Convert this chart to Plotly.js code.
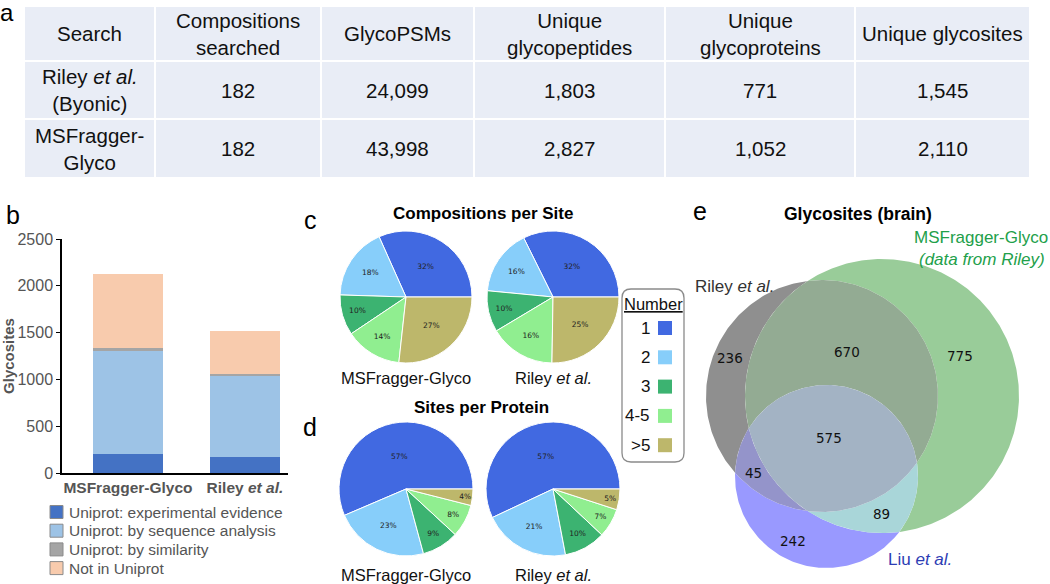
<!DOCTYPE html>
<html>
<head>
<meta charset="utf-8">
<script src="https://cdn.plot.ly/plotly-3.0.1.min.js"></script>
<style>html,body{margin:0;padding:0;background:#fff;}#chart{width:1050px;height:584px;}</style>
</head>
<body>
<div id="chart"></div>
<script>
// ---------------- DATA ----------------
// (a) table
const tableHeader = ['Search', 'Compositions<br>searched', 'GlycoPSMs', 'Unique<br>glycopeptides', 'Unique<br>glycoproteins', 'Unique glycosites'];
const tableRowRiley = ['Riley <i>et al.</i><br>(Byonic)', '182', '24,099', '1,803', '771', '1,545'];
const tableRowMSF = ['MSFragger-<br>Glyco', '182', '43,998', '2,827', '1,052', '2,110'];

// (b) stacked bars
const barCategories = ['MSFragger-Glyco', 'Riley <i>et al.</i>'];
const seriesNames = ['Uniprot: experimental evidence', 'Uniprot: by sequence analysis', 'Uniprot: by similarity', 'Not in Uniprot'];
const expEvidence = [200, 170];
const seqAnalysis = [1105, 862];
const bySimilarity = [35, 25];
const notInUniprot = [790, 463];

// (c),(d) pies
const numberCategories = ['1', '2', '3', '4-5', '>5'];
const compositionsMSF = [32, 18, 10, 14, 27];
const compositionsRiley = [32, 16, 10, 16, 25];
const sitesMSF = [57, 23, 9, 8, 4];
const sitesRiley = [57, 21, 10, 7, 5];
const pieNames = ['MSFragger-Glyco', 'Riley <i>et al.</i>'];

// (e) venn
const vennSetNames = ['Riley <i>et al.</i>', 'MSFragger-Glyco', 'Liu <i>et al.</i>'];
const vennRegionMasks = [1, 2, 4, 3, 5, 6, 7];   // bit0 Riley, bit1 MSFragger, bit2 Liu
const vennCounts = [236, 775, 242, 670, 45, 89, 575];

// ---------------- STYLE / LAYOUT ----------------
const W = 1050, H = 584;
const X = px => px / W;
const Y = py => 1 - py / H;
const FONT = 'Liberation Sans, Arial, sans-serif';
const barColors = ['#4472C4', '#9DC3E6', '#A5A5A5', '#F8CBAD'];
const pieColors = ['#4169E1', '#87CEFA', '#3CB371', '#90EE90', '#BDB76B'];
const regionColors = {1: '#8F8F8F', 2: '#99CC99', 4: '#9999FF', 3: '#93AB93', 5: '#9494CA', 6: '#A9D6D9', 7: '#A3B3C4'};
const vennLabelPos = {1: [730, 358], 2: [960, 356], 4: [793, 541], 3: [847, 352], 5: [753, 473], 6: [881, 514], 7: [829, 438]};
const vennCircles = [{x: 822, y: 396, r: 116}, {x: 882, y: 396, r: 137}, {x: 826.5, y: 476.5, r: 91.5}];

const traces = [];
const shapes = [];
const annotations = [];

function ann(px, py, text, font, opts) {
  annotations.push(Object.assign({xref: 'paper', yref: 'paper', x: X(px), y: Y(py), text: text, showarrow: false,
    xanchor: 'center', yanchor: 'middle', font: font}, opts || {}));
}

// ---------- (a) table drawn with shapes + annotations ----------
const colEdges = [25, 155, 321, 474, 665, 855, 1029];
const rowEdges = [7, 61, 119, 177];
const tableRows = [tableHeader, tableRowRiley, tableRowMSF];
tableRows.forEach((row, r) => {
  row.forEach((txt, c) => {
    const x0 = colEdges[c] + (c > 0 ? 1 : 0), x1 = colEdges[c + 1] - (c < row.length - 1 ? 1 : 0);
    const y0 = rowEdges[r] + (r > 0 ? 1 : 0), y1 = rowEdges[r + 1] - (r < tableRows.length - 1 ? 1 : 0);
    shapes.push({type: 'rect', xref: 'paper', yref: 'paper', x0: X(x0), x1: X(x1), y0: Y(y1), y1: Y(y0),
      fillcolor: '#E9EDF6', line: {width: 0}, layer: 'below'});
    ann((x0 + x1) / 2, (y0 + y1) / 2, txt, {family: FONT, size: 20.5, color: '#111'});
  });
});

// ---------- (b) stacked bars ----------
[expEvidence, seqAnalysis, bySimilarity, notInUniprot].forEach((vals, i) => {
  traces.push({type: 'bar', x: barCategories, y: vals, name: seriesNames[i], width: 0.6, showlegend: false,
    marker: {color: barColors[i], line: {width: 0}}, xaxis: 'x', yaxis: 'y', hoverinfo: 'y'});
  // legend entry
  const cy = 512 + i * 18.7;
  shapes.push({type: 'rect', xref: 'paper', yref: 'paper', x0: X(50), x1: X(63), y0: Y(cy + 6.5), y1: Y(cy - 6.5),
    fillcolor: barColors[i], line: {color: '#8a8a8a', width: 1}});
  ann(67, cy, seriesNames[i], {family: FONT, size: 15.5, color: '#555'}, {xanchor: 'left'});
});

// ---------- (c),(d) pies ----------
function pie(values, cx, cy, r) {
  const total = values.reduce((a, b) => a + b, 0);
  return {type: 'pie', values: values, labels: numberCategories, sort: false, direction: 'counterclockwise',
    rotation: 90 - 360 * values[0] / total, text: values.map(v => v + '%'), textinfo: 'text', textposition: 'inside',
    insidetextorientation: 'horizontal', textfont: {family: 'DejaVu Sans', size: 7.5, color: '#222'},
    marker: {colors: pieColors, line: {color: '#fff', width: 1}}, showlegend: false, hoverinfo: 'label+text',
    domain: {x: [X(cx - r), X(cx + r)], y: [Y(cy + r), Y(cy - r)]}};
}
traces.push(pie(compositionsMSF, 406, 297, 66));
traces.push(pie(compositionsRiley, 553, 297, 66));
traces.push(pie(sitesMSF, 406, 489, 67));
traces.push(pie(sitesRiley, 553, 489, 67));

ann(483, 213, '<b>Compositions per Site</b>', {family: FONT, size: 17, color: '#000'});
ann(481, 407, '<b>Sites per Protein</b>', {family: FONT, size: 17, color: '#000'});
[[406, 378], [553, 378], [406, 575], [553, 575]].forEach((p, i) => {
  ann(p[0], p[1], pieNames[i % 2], {family: FONT, size: 16.5, color: '#111'});
});

// Number legend box
(function () {
  const x0 = 622, x1 = 684, y0 = 289, y1 = 462, rr = 9;
  const P = (x, y) => X(x) + ',' + Y(y);
  const path = 'M' + P(x0 + rr, y0) + ' L' + P(x1 - rr, y0) + ' Q' + P(x1, y0) + ' ' + P(x1, y0 + rr) +
    ' L' + P(x1, y1 - rr) + ' Q' + P(x1, y1) + ' ' + P(x1 - rr, y1) + ' L' + P(x0 + rr, y1) +
    ' Q' + P(x0, y1) + ' ' + P(x0, y1 - rr) + ' L' + P(x0, y0 + rr) + ' Q' + P(x0, y0) + ' ' + P(x0 + rr, y0) + ' Z';
  shapes.push({type: 'path', xref: 'paper', yref: 'paper', path: path, line: {color: '#8a8a8a', width: 1.3}, fillcolor: 'rgba(0,0,0,0)'});
  ann(653, 304, '<u>Number</u>', {family: FONT, size: 16.5, color: '#111'});
  numberCategories.forEach((lab, i) => {
    const cy = 328 + i * 29.3;
    ann(652, cy, lab, {family: FONT, size: 17, color: '#111'}, {xanchor: 'right'});
    shapes.push({type: 'rect', xref: 'paper', yref: 'paper', x0: X(658), x1: X(672), y0: Y(cy + 7), y1: Y(cy - 7),
      fillcolor: pieColors[i], line: {width: 0}});
  });
})();

// ---------- (e) venn ----------
function inter(c1, c2) {
  const dx = c2.x - c1.x, dy = c2.y - c1.y, d = Math.hypot(dx, dy);
  const a = (c1.r * c1.r - c2.r * c2.r + d * d) / (2 * d);
  const h = Math.sqrt(Math.max(0, c1.r * c1.r - a * a));
  const mx = c1.x + a * dx / d, my = c1.y + a * dy / d;
  return [[mx - h * dy / d, my + h * dx / d], [mx + h * dy / d, my - h * dx / d]];
}
const onCircle = (c, a) => [c.x + c.r * Math.cos(a), c.y + c.r * Math.sin(a)];
const arcs = [];
vennCircles.forEach((ci, i) => {
  const angles = [];
  vennCircles.forEach((cj, j) => {
    if (j === i) return;
    inter(ci, cj).forEach(p => angles.push(Math.atan2(p[1] - ci.y, p[0] - ci.x)));
  });
  angles.sort((a, b) => a - b);
  angles.forEach((a0, k) => {
    const a1 = k + 1 < angles.length ? angles[k + 1] : angles[0] + 2 * Math.PI;
    const mp = onCircle(ci, (a0 + a1) / 2);
    let mem = 0;
    vennCircles.forEach((cj, j) => { if (j !== i && Math.hypot(mp[0] - cj.x, mp[1] - cj.y) < cj.r) mem |= (1 << j); });
    const n = Math.max(8, Math.ceil((a1 - a0) * ci.r / 2));
    const pts = [];
    for (let s = 0; s <= n; s++) pts.push(onCircle(ci, a0 + (a1 - a0) * s / n));
    arcs.push({pts: pts, masks: [mem | (1 << i), mem]});
  });
});
const near = (p, q) => Math.hypot(p[0] - q[0], p[1] - q[1]) < 0.01;
vennRegionMasks.forEach((m, idx) => {
  const list = arcs.filter(a => a.masks.includes(m));
  if (!list.length) return;
  const used = new Set([0]);
  const path = list[0].pts.slice();
  while (used.size < list.length) {
    const end = path[path.length - 1];
    let found = false;
    for (let k = 0; k < list.length; k++) {
      if (used.has(k)) continue;
      const pts = list[k].pts;
      if (near(pts[0], end)) { path.push(...pts.slice(1)); used.add(k); found = true; break; }
      if (near(pts[pts.length - 1], end)) { path.push(...pts.slice(0, -1).reverse()); used.add(k); found = true; break; }
    }
    if (!found) break;
  }
  traces.push({type: 'scatter', mode: 'lines', x: path.map(p => p[0]), y: path.map(p => p[1]), fill: 'toself',
    fillcolor: regionColors[m], line: {width: 0, color: regionColors[m]}, hoverinfo: 'skip', showlegend: false,
    xaxis: 'x2', yaxis: 'y2'});
  const lp = vennLabelPos[m];
  annotations.push({xref: 'x2', yref: 'y2', x: lp[0], y: lp[1], text: String(vennCounts[idx]), showarrow: false,
    xanchor: 'center', yanchor: 'middle', font: {family: 'DejaVu Sans', size: 13.5, color: '#111'}});
});
ann(858, 214, '<b>Glycosites (brain)</b>', {family: FONT, size: 17.5, color: '#000'});
ann(693, 286, vennSetNames[0], {family: FONT, size: 17, color: '#333'}, {xanchor: 'left'});
ann(912, 237, vennSetNames[1], {family: FONT, size: 17, color: '#22A04A'}, {xanchor: 'left'});
ann(917, 259, '<i>(data from Riley)</i>', {family: FONT, size: 17, color: '#22A04A'}, {xanchor: 'left'});
ann(886, 559, vennSetNames[2], {family: FONT, size: 17, color: '#2D3DB4'}, {xanchor: 'left'});

// panel letters
ann(7, 0, 'a', {family: FONT, size: 24, color: '#000'}, {yanchor: 'top', borderpad: 0, yshift: 2});
[['b', 13, 215], ['c', 310, 220], ['d', 310, 427], ['e', 700, 211]].forEach(l => {
  ann(l[1], l[2], l[0], {family: FONT, size: 25, color: '#000'});
});

const layout = {
  width: W, height: H, margin: {l: 0, r: 0, t: 0, b: 0}, paper_bgcolor: '#fff', plot_bgcolor: 'rgba(0,0,0,0)',
  font: {family: FONT},
  barmode: 'stack', bargap: 0,
  showlegend: false,
  xaxis: {domain: [X(62), X(288)], type: 'category', categoryarray: barCategories, range: [-0.564, 1.368],
    showline: true, linecolor: '#000', linewidth: 1.5, ticks: '', showgrid: false, zeroline: false,
    tickfont: {family: FONT, size: 15.5, color: '#555', weight: 'bold'}, anchor: 'y', fixedrange: true},
  yaxis: {domain: [Y(473), Y(239)], range: [0, 2500], tickvals: [0, 500, 1000, 1500, 2000, 2500],
    showline: true, linecolor: '#000', linewidth: 1.5, ticks: 'outside', ticklen: 4, tickcolor: '#000',
    showgrid: false, zeroline: false, tickfont: {family: FONT, size: 16, color: '#555'},
    title: {text: 'Glycosites', font: {family: FONT, size: 15, color: '#555', weight: 'bold'}, standoff: 4},
    anchor: 'x', fixedrange: true},
  xaxis2: {domain: [X(690), X(1050)], range: [690, 1050], visible: false, anchor: 'y2', fixedrange: true},
  yaxis2: {domain: [Y(580), Y(250)], range: [580, 250], visible: false, anchor: 'x2', fixedrange: true},
  shapes: shapes, annotations: annotations
};
Plotly.newPlot('chart', traces, layout, {displayModeBar: false});
</script>
</body>
</html>
